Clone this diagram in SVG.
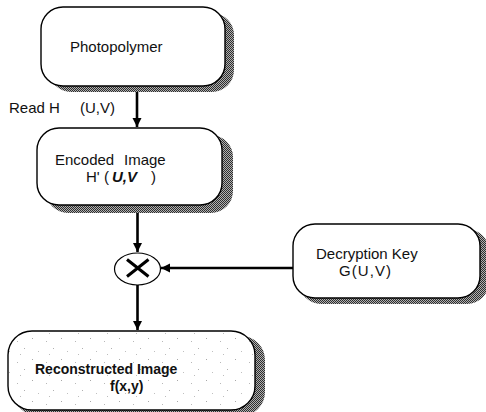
<svg xmlns="http://www.w3.org/2000/svg" width="486" height="412" viewBox="0 0 486 412">
  <defs>
    <!-- dithered grey used for the drop shadows -->
    <pattern id="dither" patternUnits="userSpaceOnUse" width="2" height="2">
      <rect width="2" height="2" fill="#b0b0b0"/>
      <rect x="0" y="0" width="1" height="1" fill="#2e2e2e"/>
      <rect x="1" y="1" width="1" height="1" fill="#2e2e2e"/>
    </pattern>
    <!-- faint, sparse speckle for the output box -->
    <pattern id="speckle" patternUnits="userSpaceOnUse" width="29" height="21">
      <rect width="29" height="21" fill="#ffffff"/>
      <rect x="3" y="2" width="1" height="1" fill="#a8a8a8"/>
      <rect x="17" y="5" width="1" height="1" fill="#b8b8b8"/>
      <rect x="24" y="12" width="1" height="1" fill="#b0b0b0"/>
      <rect x="9" y="15" width="1" height="1" fill="#c0c0c0"/>
      <rect x="20" y="18" width="1" height="1" fill="#bcbcbc"/>
    </pattern>
    <marker id="head" viewBox="0 0 10 10" refX="10" refY="5" markerWidth="9" markerHeight="10" markerUnits="userSpaceOnUse" orient="auto">
      <path d="M0,0 L10,5 L0,10 Z" fill="#000"/>
    </marker>
  </defs>
  <style>
    .shadow { fill: url(#dither); }
    .box { fill: #ffffff; stroke: #000; stroke-width: 1.4; }
    .label { font-family: "Liberation Sans", Arial, sans-serif; font-size: 15px; fill: #111; }
    .bold { font-weight: bold; font-size: 14px; }
    .wire { stroke: #000; stroke-width: 2.6; fill: none; }
  </style>

  <g id="photopolymer">
    <rect class="shadow" x="49" y="13" width="185" height="79" rx="22"/>
    <rect class="box" x="41" y="7" width="184" height="79" rx="22"/>
    <text class="label" x="70" y="52">Photopolymer</text>
  </g>

  <g id="read-label">
    <text class="label" x="9" y="113">Read H</text>
    <text class="label" x="80" y="113">(U,V)</text>
  </g>

  <g id="encoded-image">
    <rect class="shadow" x="46" y="135" width="187" height="78" rx="22"/>
    <rect class="box" x="37" y="128" width="185" height="77" rx="22"/>
    <text class="label" x="55" y="165">Encoded</text>
    <text class="label" x="124" y="165">Image</text>
    <text class="label" x="86" y="182">H'</text>
    <text class="label" x="104" y="182">(</text>
    <text class="label" x="112" y="182" font-weight="bold" font-style="italic">U,V</text>
    <text class="label" x="151" y="182">)</text>
  </g>

  <g id="multiplier">
    <ellipse cx="137.5" cy="269" rx="23" ry="16" fill="#fff" stroke="#000" stroke-width="1.2"/>
    <path d="M127,259.5 L148.5,276.5 M148.5,259.5 L127,276.5" stroke="#000" stroke-width="3" fill="none"/>
  </g>

  <g id="decryption-key">
    <rect class="shadow" x="299" y="229" width="190" height="75" rx="22"/>
    <rect class="box" x="293" y="224" width="187" height="74" rx="22"/>
    <text class="label" x="316" y="259">Decryption Key</text>
    <text class="label" x="339" y="276" textLength="52" lengthAdjust="spacing">G(U,V)</text>
  </g>

  <g id="reconstructed-image">
    <rect class="shadow" x="14" y="336" width="251" height="80" rx="24"/>
    <rect x="8" y="331" width="247" height="79" rx="24" fill="url(#speckle)" stroke="#000" stroke-width="1.4"/>
    <text class="label bold" x="35" y="374">Reconstructed Image</text>
    <text class="label bold" x="110" y="391">f(x,y)</text>
  </g>

  <g id="connectors">
    <line class="wire" x1="137" y1="92" x2="137" y2="127" marker-end="url(#head)"/>
    <line class="wire" x1="137.5" y1="213" x2="137.5" y2="252" marker-end="url(#head)"/>
    <line class="wire" x1="293" y1="268" x2="161" y2="268" marker-end="url(#head)"/>
    <line class="wire" x1="137.5" y1="285" x2="137.5" y2="330" marker-end="url(#head)"/>
  </g>
</svg>
